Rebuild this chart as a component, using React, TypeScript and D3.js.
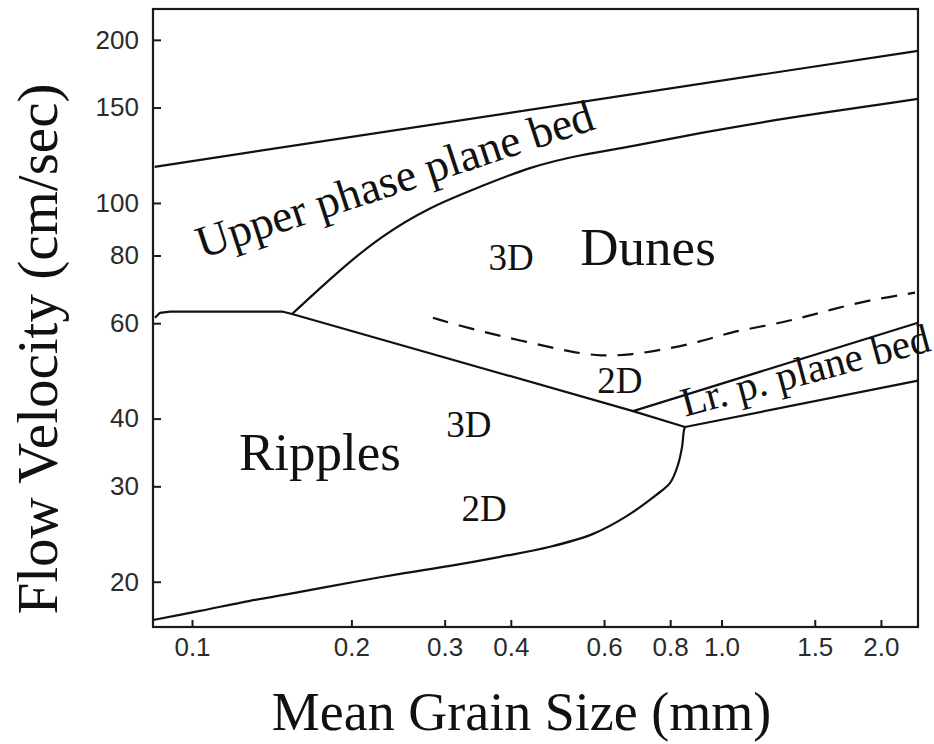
import React, { useEffect, useRef } from 'react';
import * as d3 from 'd3';

// Bedform stability diagram: mean grain size (mm) vs flow velocity (cm/sec), log-log

const xTicks = [0.1, 0.2, 0.3, 0.4, 0.6, 0.8, 1.0, 1.5, 2.0];
const yTicks = [20, 30, 40, 60, 80, 100, 150, 200];

// upper limit of upper phase plane bed
const upperLimitSize = [0.085, 2.35];
const upperLimitVel = [116.6, 190.9];

// upper phase plane bed / dunes boundary
const dunesTopSize = [0.1545, 0.1904, 0.2265, 0.2815, 0.3499, 0.4348, 0.5404, 0.6718, 0.911, 1.329, 2.35];
const dunesTopVel = [62.4, 75.3, 86.6, 98.4, 107.1, 116.6, 122.7, 126.9, 134.7, 143.6, 155.6];

// ripples / dunes boundary
const ripplesTopSize = [0.0851, 0.087, 0.0909, 0.1485, 0.1545, 0.6807, 0.8533];
const ripplesTopVel = [61.4, 62.7, 63.0, 63.0, 62.4, 41.3, 38.6];

// lower phase plane bed bounds
const lowerPlaneTopSize = [0.6807, 2.35];
const lowerPlaneTopVel = [41.3, 60.1];
const lowerPlaneBottomSize = [0.8533, 2.35];
const lowerPlaneBottomVel = [38.6, 47.0];

// lower limit of ripples
const ripplesBottomSize = [0.0844, 0.1035, 0.1287, 0.16, 0.2032, 0.2471, 0.307, 0.3817, 0.4744, 0.5719, 0.6632, 0.7488, 0.7995, 0.8275, 0.8423, 0.8494, 0.8533];
const ripplesBottomVel = [17.0, 17.67, 18.44, 19.16, 20.0, 20.68, 21.39, 22.23, 23.2, 24.51, 26.46, 28.81, 30.44, 32.87, 35.47, 38.1, 38.6];

// 2D / 3D dunes transition (dashed)
const dunesTransSize = [0.2851, 0.335, 0.418, 0.5289, 0.5923, 0.6689, 0.7754, 0.911, 1.042, 1.208, 1.395, 1.603, 1.916, 2.32];
const dunesTransVel = [61.4, 58.6, 55.7, 52.9, 52.2, 52.4, 53.6, 55.4, 57.8, 59.3, 61.1, 63.5, 66.3, 68.3];

// region labels
const regionText = ['Dunes', '3D', '2D', 'Ripples', '3D', '2D'];
const regionSize = [0.7266, 0.4004, 0.643, 0.1744, 0.3335, 0.356];
const regionVel = [76.9, 75.3, 44.6, 32.2, 37.0, 25.9];

const upperPlaneText = 'Upper phase plane bed';
const upperPlaneAt = [0.1045, 79.0];
const lowerPlaneText = 'Lr. p. plane bed';
const lowerPlaneAt = [0.8533, 40.3];

const zip = (a: number[], b: number[]) => a.map((v, i) => [v, b[i]] as [number, number]);

export default function App() {
  const ref = useRef<SVGSVGElement>(null);

  useEffect(() => {
    if (!ref.current) return;
    const svg = d3.select(ref.current);
    svg.selectAll('*').remove();

    const x = d3.scaleLog().domain([0.0844, 2.35]).range([153, 918]);
    const y = d3.scaleLog().domain([16.5, 228]).range([627, 9]);

    const serif = 'Liberation Serif, Times New Roman, serif';
    const sans = 'Liberation Sans, Arial, sans-serif';

    svg.append('rect')
      .attr('width', 934)
      .attr('height', 744)
      .attr('fill', '#fff');

    // frame
    svg.append('rect')
      .attr('x', x.range()[0])
      .attr('y', y.range()[1])
      .attr('width', x.range()[1] - x.range()[0])
      .attr('height', y.range()[0] - y.range()[1])
      .attr('fill', 'none')
      .attr('stroke', '#1a1a1a')
      .attr('stroke-width', 2.2);

    // axes with inward ticks
    const xAxis = svg.append('g')
      .attr('transform', `translate(0,${y.range()[0]})`)
      .call(d3.axisBottom(x).tickValues(xTicks).tickFormat(d => d3.format('.1f')(d as number)).tickSize(-7).tickPadding(11));
    xAxis.select('.domain').remove();
    xAxis.selectAll('line').attr('stroke', '#1a1a1a').attr('stroke-width', 2);
    xAxis.selectAll('text')
      .attr('font-family', sans)
      .attr('font-size', 26)
      .attr('fill', '#2b2b2b');

    const yAxis = svg.append('g')
      .attr('transform', `translate(${x.range()[0]},0)`)
      .call(d3.axisLeft(y).tickValues(yTicks).tickFormat(d => String(d)).tickSize(-8).tickPadding(14));
    yAxis.select('.domain').remove();
    yAxis.selectAll('line').attr('stroke', '#1a1a1a').attr('stroke-width', 2);
    yAxis.selectAll('text')
      .attr('font-family', sans)
      .attr('font-size', 26)
      .attr('fill', '#2b2b2b');

    // boundaries
    const drawLine = (pts: [number, number][], curve: d3.CurveFactory, dash?: string) => {
      const line = d3.line<[number, number]>()
        .x(d => x(d[0]))
        .y(d => y(d[1]))
        .curve(curve);
      svg.append('path')
        .datum(pts)
        .attr('fill', 'none')
        .attr('stroke', '#111')
        .attr('stroke-width', 2.2)
        .attr('stroke-linejoin', 'round')
        .attr('stroke-dasharray', dash || null)
        .attr('d', line);
    };

    drawLine(zip(upperLimitSize, upperLimitVel), d3.curveLinear);
    drawLine(zip(dunesTopSize, dunesTopVel), d3.curveBasis);
    drawLine(zip(ripplesTopSize, ripplesTopVel), d3.curveLinear);
    drawLine(zip(lowerPlaneTopSize, lowerPlaneTopVel), d3.curveLinear);
    drawLine(zip(lowerPlaneBottomSize, lowerPlaneBottomVel), d3.curveLinear);
    drawLine(zip(ripplesBottomSize, ripplesBottomVel), d3.curveCatmullRom.alpha(0.5));
    drawLine(zip(dunesTransSize, dunesTransVel), d3.curveBasis, '16,11');

    // region labels
    svg.selectAll('.region')
      .data(regionText)
      .enter()
      .append('text')
        .attr('class', 'region')
        .attr('x', (d, i) => x(regionSize[i]))
        .attr('y', (d, i) => y(regionVel[i]))
        .attr('text-anchor', 'middle')
        .attr('font-family', serif)
        .attr('font-size', d => (d.length > 2 ? 53 : 37))
        .attr('fill', '#111')
        .text(d => d);

    svg.append('text')
      .attr('transform', `translate(${x(upperPlaneAt[0])},${y(upperPlaneAt[1])}) rotate(-18.2)`)
      .attr('font-family', serif)
      .attr('font-size', 45.5)
      .attr('fill', '#111')
      .text(upperPlaneText);

    // align with the lower plane bed band
    const p0 = [x(lowerPlaneTopSize[0]), y(lowerPlaneTopVel[0])];
    const p1 = [x(lowerPlaneTopSize[1]), y(lowerPlaneTopVel[1])];
    const q0 = [x(lowerPlaneBottomSize[0]), y(lowerPlaneBottomVel[0])];
    const q1 = [x(lowerPlaneBottomSize[1]), y(lowerPlaneBottomVel[1])];
    const angle = (Math.atan2(p1[1] - p0[1], p1[0] - p0[0]) + Math.atan2(q1[1] - q0[1], q1[0] - q0[0])) / 2 * 180 / Math.PI;
    svg.append('text')
      .attr('transform', `translate(${x(lowerPlaneAt[0])},${y(lowerPlaneAt[1])}) rotate(${angle - 0.8})`)
      .attr('font-family', serif)
      .attr('font-size', 41)
      .attr('fill', '#111')
      .text(lowerPlaneText);

    // axis titles
    svg.append('text')
      .attr('x', (x.range()[0] + x.range()[1]) / 2 - 14)
      .attr('y', 730)
      .attr('text-anchor', 'middle')
      .attr('font-family', serif)
      .attr('font-size', 54)
      .attr('fill', '#111')
      .text('Mean Grain Size (mm)');

    svg.append('text')
      .attr('transform', `translate(57,349) rotate(-90)`)
      .attr('text-anchor', 'middle')
      .attr('font-family', serif)
      .attr('font-size', 57)
      .attr('fill', '#111')
      .text('Flow Velocity (cm/sec)');
  }, []);

  return <svg ref={ref} width={934} height={744} style={{ position: 'absolute', left: 0, top: 0 }} />;
}
